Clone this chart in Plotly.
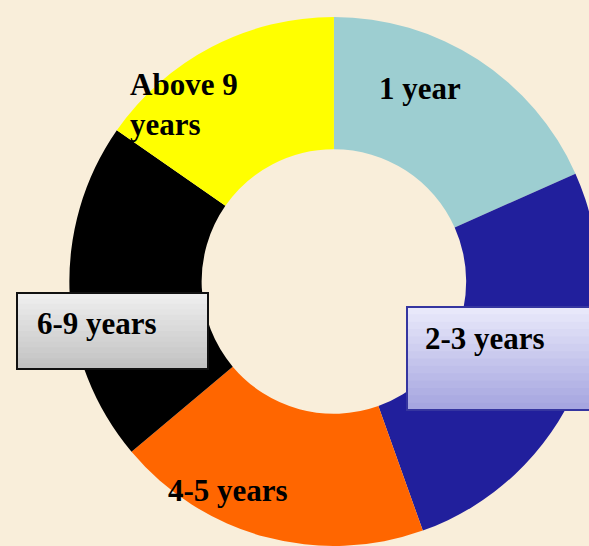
import numpy as np
import plotly.graph_objects as go

categories = ["1 year", "2-3 years", "4-5 years", "6-9 years", "Above 9 years"]
values = [18.3, 26.2, 19.3, 20.8, 15.3]
colors = ["#9DCED1", "#211F9C", "#FF6600", "#000000", "#FFFF00"]

W, H = 600, 546
BG = "#F9EEDA"

fig = go.Figure(go.Pie(
    labels=categories,
    values=values,
    hole=0.5,
    sort=False,
    direction="clockwise",
    rotation=0,
    marker=dict(colors=colors, line=dict(width=0)),
    textinfo="none",
    hoverinfo="label+percent",
    domain=dict(x=[0.115, 0.998], y=[0.0, 0.969]),
    showlegend=False,
))


def px(x):
    return x / W


def py(y):
    return 1 - y / H


FONT = "Liberation Serif, Times New Roman, serif"

shapes = []


def grad_box(x0, y0, x1, y1, c_top, c_bot, border):
    n = 14
    top = np.array([int(c_top[i:i + 2], 16) for i in (1, 3, 5)])
    bot = np.array([int(c_bot[i:i + 2], 16) for i in (1, 3, 5)])
    for i in range(n):
        t = i / (n - 1)
        c = (top * (1 - t) + bot * t).round().astype(int)
        ya = y0 + (y1 - y0) * i / n
        yb = min(y1, y0 + (y1 - y0) * (i + 1) / n + 2)
        shapes.append(dict(type="rect", xref="paper", yref="paper",
                           x0=px(x0), x1=px(x1), y0=py(ya), y1=py(yb),
                           fillcolor="rgb(%d,%d,%d)" % tuple(c), line=dict(width=0), layer="above"))
    shapes.append(dict(type="rect", xref="paper", yref="paper",
                       x0=px(x0), x1=px(x1), y0=py(y0), y1=py(y1),
                       fillcolor="rgba(0,0,0,0)", line=dict(width=2, color=border), layer="above"))


grad_box(17, 293, 208, 369, "#EEEEEE", "#C2C2C2", "#111111")
grad_box(407, 307, 610, 410, "#E8E8FA", "#A6A6E0", "#3535A0")

annotations = [
    dict(text="<b>1 year</b>", x=px(420), y=py(89)),
    dict(text="<b>Above 9</b><br><b>years</b>", x=px(128), y=py(104), xanchor="left", align="left"),
    dict(text="<b>6-9 years</b>", x=px(35), y=py(323), xanchor="left"),
    dict(text="<b>2-3 years</b>", x=px(423), y=py(338), xanchor="left"),
    dict(text="<b>4-5 years</b>", x=px(228), y=py(490)),
]
for a in annotations:
    a.update(xref="paper", yref="paper", showarrow=False,
             font=dict(family=FONT, size=31, color="#000000"))
    a.setdefault("xanchor", "center")
    a["yanchor"] = "middle"

fig.update_layout(
    width=W, height=H,
    margin=dict(l=0, r=0, t=0, b=0),
    paper_bgcolor=BG, plot_bgcolor=BG,
    shapes=shapes,
    annotations=annotations,
)

fig.write_html(
    "out.html",
    config={"displayModeBar": False},
    post_script="document.body.style.margin='0';document.documentElement.style.overflow='hidden';document.body.style.overflow='hidden';document.body.style.background='" + BG + "';",
)
